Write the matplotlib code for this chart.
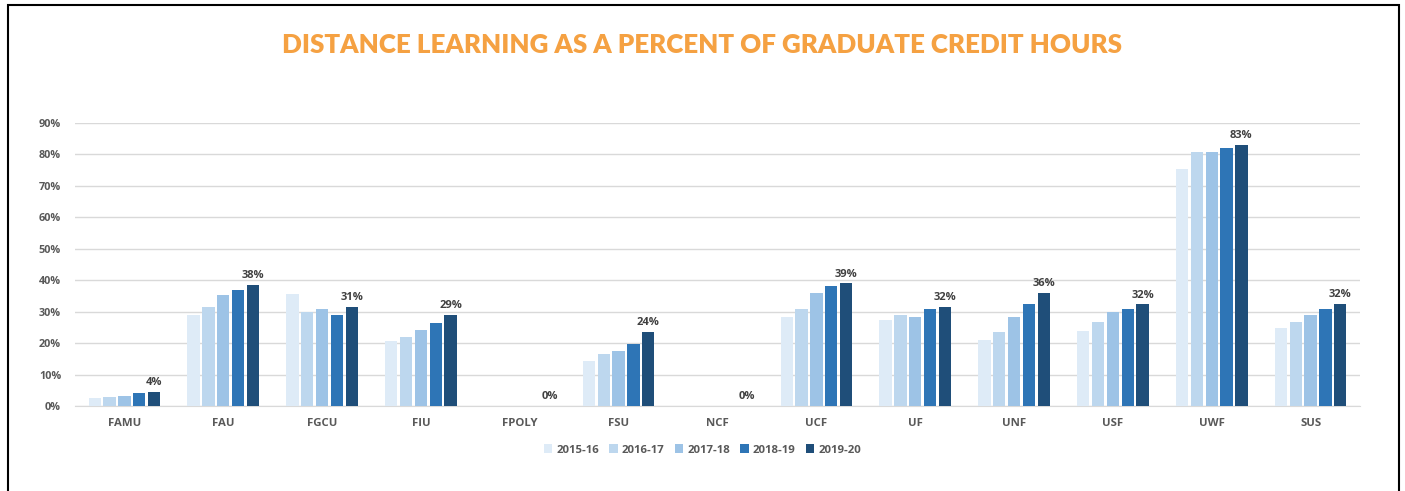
import matplotlib
matplotlib.use("Agg")
import matplotlib.pyplot as plt
from matplotlib.patches import Rectangle
from matplotlib.ticker import FuncFormatter
import numpy as np

# Data (percent of graduate credit hours)
schools = ['FAMU', 'FAU', 'FGCU', 'FIU', 'FPOLY', 'FSU', 'NCF',
           'UCF', 'UF', 'UNF', 'USF', 'UWF', 'SUS']
years = ['2015-16', '2016-17', '2017-18', '2018-19', '2019-20']

y2015 = [2.4, 29.0, 35.6, 20.6, 0, 14.3, 0, 28.3, 27.5, 21.0, 24.0, 75.4, 24.9]
y2016 = [2.9, 31.6, 30.0, 21.9, 0, 16.6, 0, 31.0, 28.8, 23.6, 26.6, 80.8, 26.7]
y2017 = [3.3, 35.3, 30.7, 24.1, 0, 17.6, 0, 35.9, 28.3, 28.3, 29.8, 80.8, 28.9]
y2018 = [4.1, 37.0, 28.9, 26.4, 0, 19.8, 0, 38.1, 31.0, 32.3, 31.0, 82.1, 30.7]
y2019 = [4.4, 38.4, 31.4, 28.9, 0, 23.6, 0, 39.0, 31.5, 35.9, 32.3, 83.0, 32.4]

series = [y2015, y2016, y2017, y2018, y2019]
colors = ['#DEEBF7', '#BDD7EE', '#9DC3E6', '#2E75B6', '#1F4E79']

text_gray = '#595959'
font = 'Open Sans'

fig = plt.figure(figsize=(14.05, 4.91), dpi=100)
ax = fig.add_axes([75 / 1405, 1 - 406 / 491, 1285 / 1405, 283 / 491])

x = np.arange(len(schools))
slot = 0.15
bw = 0.125
for i, (vals, c) in enumerate(zip(series, colors)):
    offs = (i - 2) * slot
    ax.bar(x + offs, vals, width=bw, color=c, label=years[i], zorder=3)

# labels on the latest year only
for xi, v in zip(x, y2019):
    ax.text(xi + 2 * slot, v + 1.2, f'{v:.0f}%', ha='center', va='bottom',
            fontsize=8, fontweight='bold', color='#404040', family=font)

ax.set_xlim(-0.5, len(schools) - 0.5)
ax.set_ylim(0, 90)
ax.set_yticks(np.arange(0, 91, 10))
ax.yaxis.set_major_formatter(FuncFormatter(lambda v, p: f'{v:.0f}%'))
ax.set_xticks(x)
ax.set_xticklabels(schools)
ax.grid(axis='y', color='#D9D9D9', linewidth=1, zorder=0)
for s in ['top', 'right', 'left']:
    ax.spines[s].set_visible(False)
ax.spines['bottom'].set_color('#D9D9D9')
ax.tick_params(length=0, labelcolor=text_gray)
ax.tick_params(axis='y', pad=10, labelsize=7.8)
ax.tick_params(axis='x', pad=9, labelsize=8.2)
for lab in ax.get_xticklabels() + ax.get_yticklabels():
    lab.set_fontweight('bold')
    lab.set_family(font)

fig.text(0.5, 1 - 45 / 491, 'DISTANCE LEARNING AS A PERCENT OF GRADUATE CREDIT HOURS',
         ha='center', va='center', fontsize=18.7, fontweight='heavy',
         color='#F5A142', family='Lato')

leg = fig.legend(loc='center', bbox_to_anchor=(0.5, 1 - 450 / 491), ncol=5,
                 frameon=False, handlelength=0.75, handleheight=0.75,
                 handletextpad=0.35, columnspacing=0.9,
                 prop={'family': font, 'weight': 'bold', 'size': 8.2})
for t in leg.get_texts():
    t.set_color(text_gray)

# outer frame, open at the bottom like the screenshot
fig.patches.append(Rectangle((8 / 1405, -0.2), 1391 / 1405, 1.2 - 5 / 491,
                             transform=fig.transFigure, fill=False,
                             edgecolor='black', linewidth=1.5, clip_on=False))

fig.savefig('out.png', dpi=100, facecolor='white')
